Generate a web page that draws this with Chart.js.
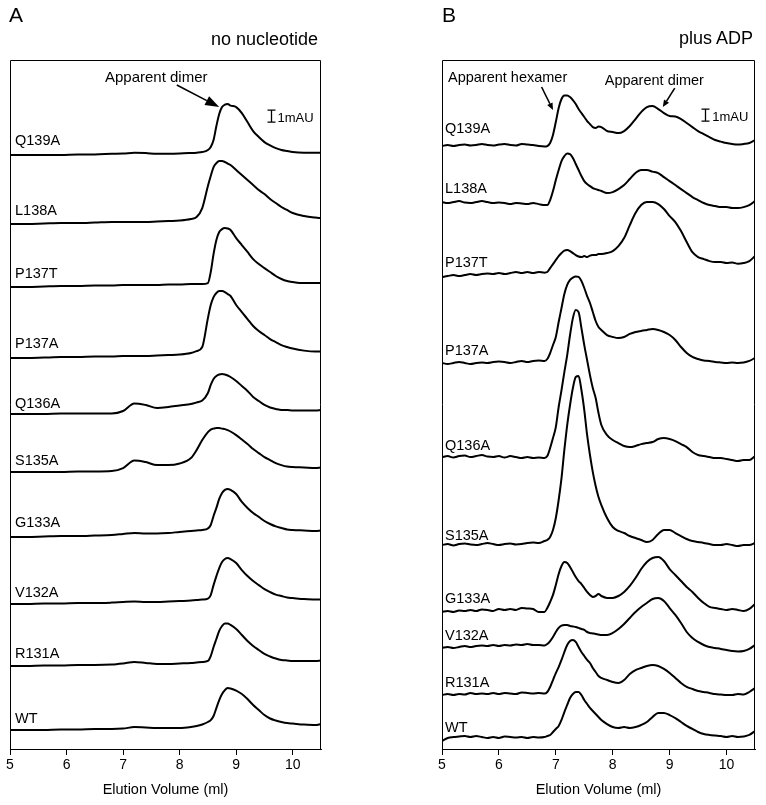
<!DOCTYPE html>
<html><head><meta charset="utf-8">
<script src="https://cdn.jsdelivr.net/npm/chart.js@4.4.1/dist/chart.umd.min.js"></script>
<style>
html,body{margin:0;padding:0;background:#fff;}
#wrap{position:relative;width:766px;height:805px;overflow:hidden;font-family:"Liberation Sans",Arial,sans-serif;color:#000;background:#fff;}
canvas{position:absolute;top:0;}
.t{position:absolute;white-space:nowrap;}
</style></head><body>
<div id="wrap">
<canvas id="cA" width="383" height="805" style="left:0px;width:383px;height:805px"></canvas>
<canvas id="cB" width="383" height="805" style="left:383px;width:383px;height:805px"></canvas>
</div>
<script>
// ---------- DATA ----------
const mutants = ["Q139A","L138A","P137T","P137A","Q136A","S135A","G133A","V132A","R131A","WT"];
const xTicks = [5,6,7,8,9,10];

// Panel A (no nucleotide): elution volume (ml)
const volumeA = [5.0,5.3,5.6,5.9,6.2,6.5,6.8,7.0,7.2,7.4,7.6,7.8,8.0,8.2,8.3,8.4,8.5,8.55,8.6,8.65,8.7,8.75,8.8,8.85,8.9,9.0,9.1,9.2,9.3,9.4,9.5,9.6,9.7,9.8,9.9,10.0,10.2,10.4,10.5];
// absorbance above each trace's own baseline (mAU)
const A_Q139A = [0,0,0,0,0.05,0.05,0.1,0.12,0.2,0.17,0.1,0.1,0.12,0.17,0.2,0.25,0.42,0.67,1.25,2.42,3.42,4.0,4.2,4.25,4.12,4.0,3.5,2.75,2.0,1.5,1.08,0.8,0.58,0.42,0.33,0.25,0.2,0.2,0.2];
const A_L138A = [0,0,0.04,0.08,0.08,0.12,0.17,0.17,0.17,0.17,0.21,0.25,0.29,0.42,0.58,1.33,3.17,4.0,4.75,5.08,5.25,5.25,5.17,5.04,4.92,4.5,4.08,3.67,3.25,2.83,2.5,2.08,1.75,1.42,1.17,0.92,0.67,0.54,0.5];
const A_P137T = [0,0,0.04,0.08,0.08,0.12,0.12,0.17,0.17,0.17,0.17,0.21,0.21,0.25,0.25,0.25,0.33,1.25,2.75,3.92,4.58,4.83,4.92,4.88,4.75,4.08,3.5,2.92,2.33,1.92,1.58,1.25,0.92,0.67,0.5,0.42,0.33,0.33,0.33];
const A_P137A = [0,0,0.04,0.08,0.08,0.12,0.12,0.17,0.17,0.17,0.21,0.25,0.29,0.42,0.58,0.92,3.33,4.42,5.08,5.42,5.58,5.58,5.5,5.33,5.17,4.42,3.83,3.25,2.67,2.25,1.92,1.58,1.33,1.08,0.92,0.79,0.62,0.54,0.54];
const A_Q136A = [0,0,0,0.04,0.04,0.04,0.04,0.25,0.88,0.75,0.5,0.58,0.71,0.83,0.96,1.12,1.75,2.42,2.92,3.17,3.29,3.33,3.29,3.21,3.08,2.75,2.33,1.92,1.42,1.08,0.75,0.54,0.42,0.33,0.33,0.29,0.29,0.29,0.33];
const A_S135A = [0,0,0,0,0.04,0.04,0.08,0.33,0.96,0.83,0.58,0.58,0.71,1.17,1.83,2.67,3.33,3.54,3.62,3.67,3.67,3.62,3.58,3.5,3.38,3.08,2.71,2.33,1.92,1.58,1.25,1.0,0.75,0.58,0.46,0.42,0.38,0.33,0.38];
const A_G133A = [0,0,0.04,0.08,0.08,0.12,0.17,0.25,0.33,0.29,0.29,0.33,0.42,0.5,0.54,0.58,0.71,1.0,1.75,2.42,3.17,3.67,3.92,4.0,3.92,3.58,2.92,2.42,2.0,1.67,1.33,1.08,0.88,0.75,0.62,0.58,0.54,0.5,0.54];
const A_V132A = [0,0,0.04,0.04,0.08,0.08,0.12,0.17,0.21,0.17,0.17,0.21,0.25,0.29,0.33,0.38,0.46,0.75,1.58,2.33,3.0,3.5,3.75,3.83,3.75,3.42,2.83,2.33,1.92,1.58,1.25,1.0,0.79,0.67,0.54,0.5,0.42,0.38,0.38];
const A_R131A = [0,0,0.04,0.04,0.08,0.08,0.12,0.21,0.33,0.25,0.17,0.17,0.21,0.25,0.29,0.33,0.42,0.83,1.58,2.25,2.92,3.33,3.54,3.54,3.42,3.08,2.58,2.08,1.67,1.33,1.0,0.79,0.62,0.5,0.46,0.42,0.42,0.42,0.46];
const A_WT    = [0,0,0,0.04,0.04,0.08,0.08,0.12,0.25,0.21,0.17,0.17,0.17,0.25,0.33,0.46,0.67,0.83,1.17,1.83,2.5,3.0,3.33,3.5,3.46,3.29,3.0,2.58,2.08,1.67,1.25,0.96,0.79,0.67,0.58,0.54,0.46,0.42,0.5];
// stacking offset of each trace's baseline (mAU)
const offsetA = [49.5,43.75,38.5,32.58,27.92,23.08,17.67,12.08,6.92,1.58];

// Panel B (plus ADP)
const volumeB = [5.0,5.1,5.2,5.3,5.4,5.5,5.6,5.7,5.8,5.9,6.0,6.1,6.2,6.3,6.4,6.5,6.6,6.7,6.8,
  6.85,6.9,6.95,7.0,7.05,7.1,7.15,7.2,7.25,7.3,7.35,7.4,7.45,7.5,7.55,7.6,7.65,7.7,7.75,7.8,
  7.9,8.0,8.1,8.2,8.3,8.4,8.5,8.6,8.7,8.8,8.9,9.0,9.1,9.2,9.3,9.4,9.5,9.6,9.7,9.8,9.9,10.0,10.1,10.2,10.3,10.4,10.5];
const B_Q139A = [0,0.08,0,0.08,0.12,0.04,0.08,0.17,0.08,0.04,0.12,0.17,0.08,0.04,0.17,0.12,0.08,0,-0.04,
  0,0.25,0.92,2.0,3.17,3.92,4.21,4.21,4.08,3.83,3.5,3.08,2.75,2.42,2.08,1.83,1.58,1.5,1.62,1.58,
  1.25,1.17,1.08,1.25,1.67,2.25,2.83,3.25,3.33,3.08,2.75,2.5,2.46,2.25,1.92,1.58,1.25,1.0,0.75,0.5,0.37,0.25,0.17,0.12,0.17,0.25,0.5];
const B_L138A = [0,-0.08,0,0.08,-0.04,-0.08,0,0.08,0,-0.08,-0.04,-0.08,-0.17,-0.08,-0.12,-0.17,-0.08,-0.17,-0.25,
  -0.25,0.17,0.92,1.83,2.67,3.42,3.83,4.04,4.0,3.67,3.17,2.67,2.17,1.75,1.5,1.33,1.17,1.08,1.0,0.92,
  0.75,0.83,1.08,1.42,1.92,2.42,2.67,2.67,2.54,2.42,2.08,1.75,1.42,1.08,0.75,0.42,0.17,-0.08,-0.25,-0.33,-0.42,-0.42,-0.5,-0.5,-0.42,-0.25,0.08];
const B_P137T = [0,0.08,0.17,0.08,0.17,0.25,0.17,0.25,0.29,0.25,0.33,0.25,0.33,0.42,0.33,0.42,0.33,0.42,0.37,
  0.42,0.75,1.08,1.42,1.75,2.0,2.21,2.25,2.17,2.0,1.83,1.71,1.67,1.75,1.67,1.79,1.83,1.83,1.92,1.92,
  2.0,2.17,2.58,3.25,4.33,5.33,6.0,6.25,6.25,6.08,5.67,5.08,4.58,3.83,2.92,2.08,1.67,1.5,1.33,1.25,1.25,1.17,1.21,1.12,1.17,1.33,1.75];
const B_P137A = [0,-0.08,0,0.08,0,-0.08,0,0.04,0,0.08,0.12,0.08,0,0.08,0.17,0.08,0.17,0.21,0.17,
  0.33,0.83,1.5,2.17,3.42,4.58,5.75,6.5,6.92,7.12,7.21,7.17,6.83,6.25,5.58,5.0,4.25,3.5,3.0,2.75,
  2.33,2.17,2.08,2.17,2.42,2.58,2.67,2.75,2.83,2.75,2.58,2.33,1.92,1.33,0.83,0.5,0.33,0.21,0.17,0.08,0.04,0,0.04,0,0.04,0.17,0.42];
const B_Q136A = [0,0.08,-0.04,0.08,0.12,0,0.08,0.17,0.04,0,0.08,-0.04,0.08,0,-0.08,0,-0.08,-0.04,-0.08,
  0.08,0.75,1.58,2.5,4.17,5.58,7.08,8.5,10.17,11.58,12.25,12.08,10.75,9.33,8.08,6.83,5.75,4.92,3.67,2.67,
  1.83,1.42,1.17,0.92,0.83,0.92,1.08,1.17,1.25,1.5,1.58,1.5,1.33,1.08,0.83,0.42,0.17,0.08,0,-0.08,-0.08,-0.17,-0.25,-0.33,-0.25,-0.25,0.08];
const B_S135A = [0,0.08,-0.04,0.08,0.12,0.04,0,0.08,0.17,0.08,0,0.08,0.12,0.04,0.08,0.17,0.21,0.17,0.33,
  0.42,0.67,1.25,2.25,3.75,5.58,7.92,10.0,11.67,13.08,14.0,14.08,12.92,11.25,9.17,7.5,6.08,4.92,4.0,3.33,
  2.25,1.5,1.17,1.0,0.75,0.58,0.42,0.25,0.42,0.92,1.25,1.25,1.0,0.75,0.5,0.33,0.25,0.17,0.08,0,0,0.08,0,-0.08,0,0,0.17];
const B_G133A = [0,0.08,0,0.12,0.08,0.17,0.08,0.21,0.17,0.08,0.25,0.17,0.25,0.17,0.33,0.29,0.25,0,0,
  0.33,0.83,1.42,2.25,3.17,3.83,4.17,4.08,3.75,3.33,2.92,2.58,2.33,2.0,1.67,1.42,1.25,1.33,1.5,1.33,
  1.17,1.17,1.33,1.67,2.17,2.83,3.58,4.17,4.5,4.58,4.25,3.58,3.08,2.58,2.08,1.67,1.17,0.75,0.42,0.33,0.25,0.17,0.25,0.17,0.08,0.25,0.67];
const B_V132A = [0,0.08,0,0.08,0.17,0.08,0.17,0.21,0.17,0.25,0.17,0.25,0.21,0.29,0.25,0.33,0.25,0.25,0.21,
  0.33,0.58,0.92,1.33,1.67,1.87,1.92,1.92,1.83,1.79,1.75,1.67,1.58,1.5,1.33,1.25,1.21,1.17,1.12,1.08,
  1.08,1.25,1.58,2.0,2.5,3.0,3.42,3.75,4.08,4.17,3.92,3.33,2.75,2.08,1.33,0.83,0.5,0.25,0.08,0,-0.08,-0.17,-0.25,-0.29,-0.25,-0.08,0.25];
const B_R131A = [0,0.08,0,0.08,0.04,0.17,0.08,0.12,0.08,0.17,0.08,0.17,0.12,0.08,0.21,0.17,0.12,0.17,0.12,
  0.25,0.67,1.25,1.83,2.33,2.92,3.58,4.17,4.5,4.58,4.42,4.0,3.58,3.25,2.92,2.67,2.25,1.92,1.58,1.42,
  1.25,1.08,1.0,1.25,1.75,2.08,2.25,2.42,2.5,2.42,2.17,1.83,1.42,1.0,0.67,0.5,0.33,0.25,0.17,0.08,0.04,0,0,0.08,0.04,0.25,0.58];
const B_WT    = [-0.08,0.17,0.25,0.29,0.33,0.25,0.33,0.25,0.17,0.25,0.17,0.29,0.25,0.21,0.25,0.17,0.25,0.21,0.25,
  0.33,0.42,0.67,0.92,1.17,1.67,2.33,2.92,3.5,3.83,4.0,4.0,3.75,3.33,3.0,2.67,2.42,2.17,1.92,1.67,
  1.33,1.08,1.0,1.08,1.0,1.08,1.25,1.5,1.92,2.25,2.25,2.08,1.83,1.5,1.17,0.92,0.67,0.5,0.42,0.37,0.33,0.25,0.33,0.25,0.29,0.42,0.75];
const offsetB = [50.25,45.58,39.33,32.17,24.33,17.0,11.42,8.42,4.5,0.75];

const seriesA = [A_Q139A,A_L138A,A_P137T,A_P137A,A_Q136A,A_S135A,A_G133A,A_V132A,A_R131A,A_WT];
const seriesB = [B_Q139A,B_L138A,B_P137T,B_P137A,B_Q136A,B_S135A,B_G133A,B_V132A,B_R131A,B_WT];

// ---------- LAYOUT / STYLE ----------
const FONT = '"Liberation Sans", Arial, sans-serif';
const wrap = document.getElementById('wrap');
const labelLiftA = [9.5,9,9,10,6,7,10,7,8,7];
const labelLiftB = [13,9,10,8,7,5,9,8,8,8];

const annotA = {
  arrows: [{from:[7.95,55.33], to:[8.7,53.5], head:14, headW:10}],
  bar: {x:9.62, y0:52.25, y1:53.25},
  texts: [{t:'Apparent dimer', x:6.68, y:55.58, size:15},{t:'1mAU', x:9.73, y:52.25, size:13}]
};
const annotB = {
  arrows: [{from:[6.75,55.17], to:[6.95,53.25], head:7, headW:6},{from:[9.09,55.08], to:[8.88,53.5], head:7, headW:6}],
  bar: {x:9.63, y0:52.33, y1:53.33},
  texts: [{t:'Apparent hexamer', x:5.105, y:55.58, size:14.5},{t:'Apparent dimer', x:7.86, y:55.33, size:14.5},{t:'1mAU', x:9.75, y:52.33, size:13}]
};

function putText(txt, xPx, baseY, size, align){
  const d = document.createElement('div');
  d.className = 't';
  d.textContent = txt;
  d.style.fontSize = size + 'px';
  d.style.lineHeight = size + 'px';
  d.style.top = (baseY - 0.8465*size) + 'px';
  if (align === 'right') d.style.right = (766 - xPx) + 'px';
  else d.style.left = xPx + 'px';
  wrap.appendChild(d);
}

function drawArrow(ctx, x1, y1, x2, y2, hl, hw){
  const a = Math.atan2(y2-y1, x2-x1);
  const bx = x2 - hl*Math.cos(a), by = y2 - hl*Math.sin(a);
  ctx.beginPath(); ctx.moveTo(x1,y1); ctx.lineTo(bx,by); ctx.stroke();
  ctx.beginPath(); ctx.moveTo(x2,y2);
  ctx.lineTo(bx + hw/2*Math.sin(a), by - hw/2*Math.cos(a));
  ctx.lineTo(bx - hw/2*Math.sin(a), by + hw/2*Math.cos(a));
  ctx.closePath(); ctx.fill();
}

const framePlugin = {
  id: 'frame',
  afterDraw(chart, args, opts){
    const {ctx, chartArea: ca, scales} = chart;
    const an = opts.annot;
    ctx.save();
    ctx.strokeStyle = '#000'; ctx.fillStyle = '#000'; ctx.lineWidth = 1;
    const L = Math.round(ca.left)+0.5, R = Math.round(ca.right)-0.5, T = Math.round(ca.top)+0.5, B = Math.round(ca.bottom);
    ctx.beginPath(); ctx.moveTo(L,B); ctx.lineTo(L,T); ctx.lineTo(R,T); ctx.lineTo(R,B); ctx.stroke();
    ctx.lineWidth = 1.6;
    an.arrows.forEach(ar => {
      drawArrow(ctx, scales.x.getPixelForValue(ar.from[0]), scales.y.getPixelForValue(ar.from[1]),
        scales.x.getPixelForValue(ar.to[0]), scales.y.getPixelForValue(ar.to[1]), ar.head, ar.headW);
    });
    const bx = Math.round(scales.x.getPixelForValue(an.bar.x))+0.5;
    const y0 = scales.y.getPixelForValue(an.bar.y0), y1 = scales.y.getPixelForValue(an.bar.y1);
    ctx.lineWidth = 1.3;
    ctx.beginPath();
    ctx.moveTo(bx, y0); ctx.lineTo(bx, y1);
    ctx.moveTo(bx-4, y0); ctx.lineTo(bx+4, y0);
    ctx.moveTo(bx-4, y1); ctx.lineTo(bx+4, y1);
    ctx.stroke();
    ctx.restore();
  }
};

function buildChart(id, vols, series, offsets, padL, padR, annot){
  const datasets = series.map((vals, i) => ({
    label: mutants[i],
    data: vols.map((v, j) => ({x: v, y: offsets[i] + vals[j]})),
    borderColor: '#000', borderWidth: 2, pointRadius: 0, fill: false,
    cubicInterpolationMode: 'monotone'
  }));
  return new Chart(document.getElementById(id), {
    type: 'line',
    data: {datasets},
    options: {
      responsive: false, animation: false, events: [],
      layout: {padding: {left: padL, right: padR, top: 60, bottom: 0}},
      plugins: {legend: {display: false}, tooltip: {enabled: false}, frame: {annot}},
      scales: {
        x: {
          type: 'linear', min: 5, max: 10.5,
          afterFit: s => { s.height = 56; },
          afterBuildTicks: s => { s.ticks = xTicks.map(v => ({value: v})); },
          ticks: {includeBounds: false, color: '#000', font: {family: FONT, size: 14}, padding: 2, maxRotation: 0},
          grid: {display: true, drawOnChartArea: false, drawTicks: true, tickLength: 6, color: '#000', lineWidth: 1},
          border: {display: true, color: '#000', width: 1},
          title: {display: true, text: 'Elution Volume (ml)', color: '#000', font: {family: FONT, size: 14.5}, padding: {top: 0, bottom: 6}}
        },
        y: {type: 'linear', min: 0, max: 57.42, display: false}
      }
    },
    plugins: [framePlugin]
  });
}

const chartA = buildChart('cA', volumeA, seriesA, offsetA, 10, 62, annotA);
const chartB = buildChart('cB', volumeB, seriesB, offsetB, 59, 11, annotB);

function addTexts(chart, canvasLeft, offsets, lifts, annot, inset){
  const xs = chart.scales.x, ys = chart.scales.y;
  offsets.forEach((off, i) => {
    putText(mutants[i], canvasLeft + chart.chartArea.left + inset, ys.getPixelForValue(off) - lifts[i], 14.5);
  });
  annot.texts.forEach(t => {
    putText(t.t, canvasLeft + xs.getPixelForValue(t.x), ys.getPixelForValue(t.y), t.size);
  });
}
addTexts(chartA, 0, offsetA, labelLiftA, annotA, 5);
addTexts(chartB, 383, offsetB, labelLiftB, annotB, 3);

// panel headings
putText('A', 9, 22, 21);
putText('B', 442, 22, 21);
putText('no nucleotide', 318, 45, 18, 'right');
putText('plus ADP', 753, 44, 18, 'right');
</script>
</body></html>
